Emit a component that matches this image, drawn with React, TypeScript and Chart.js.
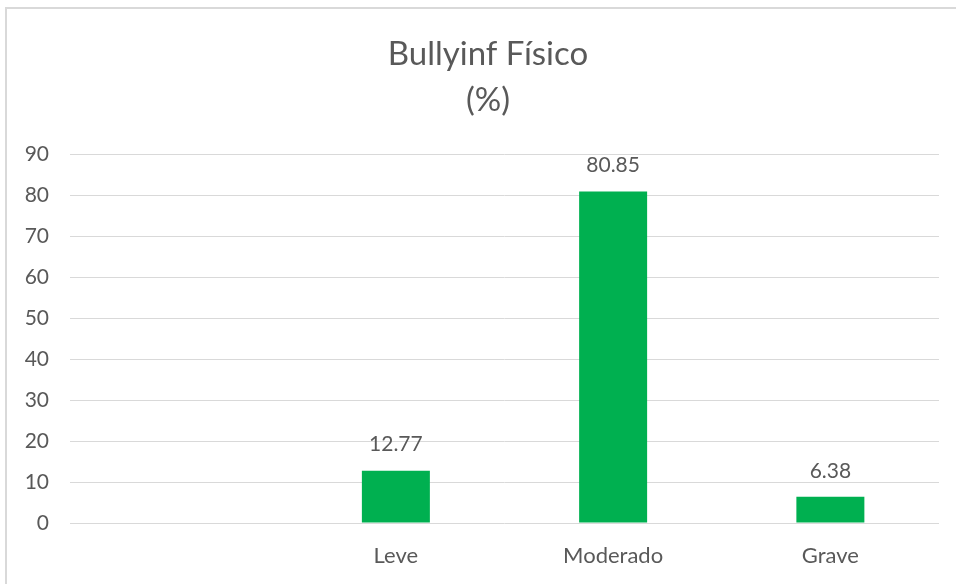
import React, { useEffect, useRef } from "react";
import { Chart, registerables } from "chart.js";

Chart.register(...registerables);

const categories = ["", "Leve", "Moderado", "Grave"];
const values: (number | null)[] = [null, 12.77, 80.85, 6.38];
const titleLines = ["Bullyinf Físico", "(%)"];
const yMin = 0;
const yMax = 90;
const yStep = 10;

const TEXT = "#595959";
const GRID = "#d9d9d9";
const GREEN = "#00b050";
const FONT = "Lato, 'Open Sans', sans-serif";

const dataLabels = {
  id: "dataLabels",
  afterDatasetsDraw(chart: any) {
    const ctx = chart.ctx;
    const meta = chart.getDatasetMeta(0);
    ctx.save();
    ctx.fillStyle = TEXT;
    ctx.font = `21px ${FONT}`;
    ctx.textAlign = "center";
    ctx.textBaseline = "middle";
    meta.data.forEach((el: any, i: number) => {
      const v = values[i];
      if (v === null || v === undefined) return;
      ctx.fillText(v.toFixed(2), el.x, el.y - 26);
    });
    ctx.restore();
  },
};

const chartTitle = {
  id: "chartTitle",
  afterDraw(chart: any) {
    const ctx = chart.ctx;
    ctx.save();
    ctx.fillStyle = TEXT;
    ctx.font = `33px ${FONT}`;
    ctx.textAlign = "center";
    ctx.textBaseline = "middle";
    const cx = chart.width / 2 + 10;
    titleLines.forEach((line, i) => {
      ctx.fillText(line, cx, 54 + i * 46);
    });
    ctx.restore();
  },
};

export default function App() {
  const ref = useRef<HTMLCanvasElement | null>(null);
  useEffect(() => {
    if (!ref.current) return;
    const chart = new Chart(ref.current, {
      type: "bar",
      data: {
        labels: categories,
        datasets: [
          {
            data: values,
            backgroundColor: GREEN,
            borderWidth: 0,
            categoryPercentage: 1,
            barPercentage: 0.313,
          },
        ],
      },
      options: {
        responsive: false,
        animation: false,
        layout: { padding: { left: 0, right: 17, top: 154, bottom: 18 } },
        plugins: {
          legend: { display: false },
          tooltip: { enabled: false },
          title: { display: false },
        },
        scales: {
          x: {
            grid: { display: false, drawTicks: false },
            border: { display: false },
            ticks: {
              color: TEXT,
              font: { family: FONT, size: 22 },
              padding: 20,
              maxRotation: 0,
            },
            afterFit(scale: any) {
              scale.height = 43;
            },
          },
          y: {
            min: yMin,
            max: yMax,
            grid: { color: GRID, lineWidth: 1, drawTicks: false },
            border: { display: false },
            ticks: {
              stepSize: yStep,
              color: TEXT,
              font: { family: FONT, size: 21 },
              padding: 21,
            },
            afterFit(scale: any) {
              scale.width = 70;
            },
          },
        },
      },
      plugins: [dataLabels, chartTitle],
    });
    return () => chart.destroy();
  }, []);

  return (
    <div style={{ position: "fixed", left: 0, top: 0, width: 956, height: 584, background: "#fff" }}>
      <canvas ref={ref} width={956} height={584} style={{ display: "block" }} />
      <div
        style={{
          position: "absolute",
          left: 5,
          top: 7,
          width: 960,
          height: 600,
          borderLeft: `2px solid ${GRID}`,
          borderTop: `2px solid ${GRID}`,
          pointerEvents: "none",
        }}
      />
    </div>
  );
}
